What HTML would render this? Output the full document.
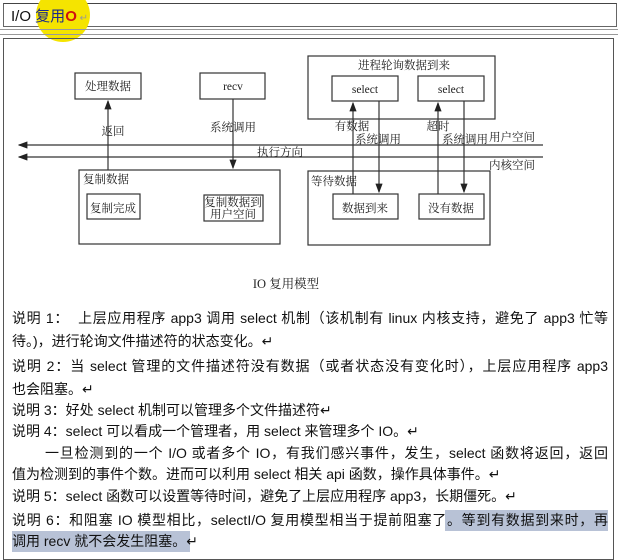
<!DOCTYPE html>
<html><head><meta charset="utf-8"><style>
body{margin:0;width:618px;height:554px;background:#fff;position:relative;overflow:hidden;font-family:"Liberation Sans","Noto Sans CJK SC",sans-serif;}
.a{position:absolute;}
.t{position:absolute;left:12px;width:596px;font-size:14px;line-height:20px;white-space:nowrap;color:#111;}
.j{text-align:justify;text-align-last:justify;}
</style></head><body>
<div class="a" style="left:3px;top:3px;width:612px;height:22px;border:1px solid #666;border-top:1px solid #444"></div>
<div class="a" style="left:36px;top:-12px;width:54px;height:54px;border-radius:50%;background:#f5e400"></div>
<div class="a" style="left:11px;top:5px;font-size:15px;color:#111">I/O <span style="color:#1a2a8a">复用</span><span style="color:#d01010;font-weight:bold">O</span><span style="color:#999;font-size:10px"> ↵</span></div>
<div class="a" style="left:0;top:29px;width:618px;height:4px;border-top:1px solid #999;border-bottom:1px solid #999"></div>
<div class="a" style="left:3px;top:38px;width:609px;height:520px;border:1px solid #555"></div>
<svg class="a" style="left:0;top:0" width="618" height="300" font-family="Liberation Serif,Noto Serif CJK SC,serif" font-size="11.5" fill="#222">
<defs><marker id="m" markerWidth="8" markerHeight="6" refX="7" refY="3" orient="auto"><path d="M0,0L8,3L0,6z" fill="#222"/></marker></defs>
<g fill="none" stroke="#333" stroke-width="1.2">
<rect x="75" y="73" width="66" height="26"/>
<rect x="200" y="73" width="65" height="26"/>
<rect x="308" y="56" width="187" height="63"/>
<rect x="332" y="76" width="66" height="25"/>
<rect x="418" y="76" width="66" height="25"/>
<rect x="79" y="170" width="201" height="74"/>
<rect x="87" y="194" width="53" height="25"/>
<rect x="204" y="195" width="59" height="26"/>
<rect x="308" y="171" width="182" height="74"/>
<rect x="333" y="194" width="65" height="25"/>
<rect x="419" y="194" width="65" height="25"/>
<line x1="543" y1="145" x2="19" y2="145" marker-end="url(#m)"/>
<line x1="543" y1="157" x2="19" y2="157" marker-end="url(#m)"/>
<line x1="108" y1="170" x2="108" y2="101" marker-end="url(#m)"/>
<line x1="233" y1="99" x2="233" y2="168" marker-end="url(#m)"/>
<line x1="353" y1="194" x2="353" y2="103" marker-end="url(#m)"/>
<line x1="379" y1="101" x2="379" y2="192" marker-end="url(#m)"/>
<line x1="438" y1="194" x2="438" y2="103" marker-end="url(#m)"/>
<line x1="464" y1="101" x2="464" y2="192" marker-end="url(#m)"/>
</g>
<g text-anchor="middle">
<text x="108" y="90">处理数据</text><text x="233" y="90">recv</text>
<text x="404" y="69">进程轮询数据到来</text>
<text x="365" y="93">select</text><text x="451" y="93">select</text>
<text x="113" y="135">返回</text><text x="233" y="131">系统调用</text>
<text x="352" y="130">有数据</text><text x="378" y="143">系统调用</text>
<text x="438" y="130">超时</text><text x="465" y="143">系统调用</text>
<text x="512" y="141">用户空间</text><text x="512" y="169">内核空间</text>
<text x="280" y="156">执行方向</text>
<text x="113" y="212">复制完成</text>
<text x="233" y="206">复制数据到</text><text x="233" y="218">用户空间</text>
<text x="365" y="212">数据到来</text><text x="451" y="212">没有数据</text>
<text x="286" y="288" font-size="12.5">IO 复用模型</text>
</g>
<text x="83" y="183">复制数据</text><text x="311" y="185">等待数据</text>
</svg>
<div class="a" style="left:445px;top:510px;width:163px;height:21px;background:#b8c2d6"></div>
<div class="a" style="left:12px;top:531px;width:178px;height:21px;background:#b8c2d6"></div>
<div class="t j" style="top:308px">说明 1：&nbsp; 上层应用程序 app3 调用 select 机制（该机制有 linux 内核支持，避免了 app3 忙等</div>
<div class="t" style="top:331px">待。)，进行轮询文件描述符的状态变化。↵</div>
<div class="t j" style="top:356px">说明 2：当 select 管理的文件描述符没有数据（或者状态没有变化时），上层应用程序 app3</div>
<div class="t" style="top:379px">也会阻塞。↵</div>
<div class="t" style="top:400px">说明 3：好处 select 机制可以管理多个文件描述符↵</div>
<div class="t" style="top:421px">说明 4：select 可以看成一个管理者，用 select 来管理多个 IO。↵</div>
<div class="t j" style="top:443px">&nbsp;&nbsp;&nbsp;&nbsp;&nbsp;&nbsp;&nbsp;一旦检测到的一个 I/O 或者多个 IO，有我们感兴事件，发生，select 函数将返回，返回</div>
<div class="t" style="top:464px">值为检测到的事件个数。进而可以利用 select 相关 api 函数，操作具体事件。↵</div>
<div class="t" style="top:486px">说明 5：select 函数可以设置等待时间，避免了上层应用程序 app3，长期僵死。↵</div>
<div class="t j" style="top:510px">说明 6：和阻塞 IO 模型相比，selectI/O 复用模型相当于提前阻塞了。等到有数据到来时，再</div>
<div class="t" style="top:531px">调用 recv 就不会发生阻塞。↵</div>
</body></html>
